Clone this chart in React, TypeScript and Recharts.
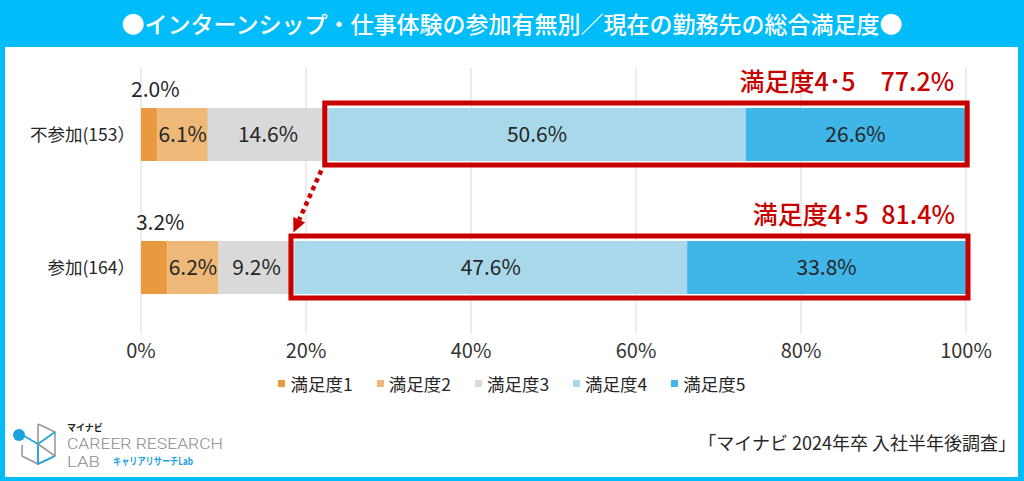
import React from 'react';
import {
  BarChart, Bar, XAxis, YAxis, CartesianGrid, LabelList, Legend, ReferenceLine,
} from 'recharts';

const FONT = '"Noto Sans CJK JP", "Noto Sans", sans-serif';

const categories = ['不参加(153）', '参加(164）'];
const seriesNames = ['満足度1', '満足度2', '満足度3', '満足度4', '満足度5'];
const seriesColors = ['#E9993E', '#EDB878', '#D9D9D9', '#A8D8EA', '#40B5E8'];
const s1 = [2.0, 3.2];
const s2 = [6.1, 6.2];
const s3 = [14.6, 9.2];
const s4 = [50.6, 47.6];
const s5 = [26.6, 33.8];
const total45 = [77.2, 81.4];
const total45Labels = ['満足度4･5\u300077.2%', '満足度4･5\u200281.4%'];
const xTicks = [0, 20, 40, 60, 80, 100];
const titleText = '●インターンシップ・仕事体験の参加有無別／現在の勤務先の総合満足度●';
const sourceText = '「マイナビ 2024年卒 入社半年後調査」';

const seriesArrays = [s1, s2, s3, s4, s5];
const keys = ['v1', 'v2', 'v3', 'v4', 'v5'];

const data = categories.map((name, i) => {
  const row: any = { name, total45: total45[i] };
  keys.forEach((k, j) => { row[k] = seriesArrays[j][i]; });
  row.before45 = s1[i] + s2[i] + s3[i];
  return row;
});

const RED = '#C80000';
const CYAN = '#00BDFA';

const fmt = (v: number) => `${Number(v).toFixed(1)}%`;

const centerLabel = (props: any) => {
  const { x, y, width, height, value } = props;
  return (
    <text x={x + width / 2} y={y + height / 2 + 7.5} textAnchor="middle" fontSize={21} fill="#262626" fontFamily={FONT}>
      {fmt(value)}
    </text>
  );
};

const topLabel = (props: any) => {
  const { x, y, width, value } = props;
  return (
    <text x={x + width / 2 + 6} y={y - 11} textAnchor="middle" fontSize={21} fill="#262626" fontFamily={FONT}>
      {fmt(value)}
    </text>
  );
};

const BoxShape = (props: any) => {
  const { x, y, width, height, fill, index } = props;
  const ppp = width / s5[index];
  const left = x - s4[index] * ppp;
  const right = x + width;
  return (
    <g>
      <rect x={x} y={y} width={width} height={height} fill={fill} />
      <rect x={left - 3.5} y={y - 5} width={right - left + 5.5} height={height + 9} fill="none" stroke={RED} strokeWidth={5} />
      <text x={right - 11} y={y - 17} textAnchor="end" fontSize={25} fontWeight={500} fill={RED} fontFamily={FONT} style={{ whiteSpace: 'pre' }}>
        {total45Labels[index]}
      </text>
    </g>
  );
};

const ArrowShape = (props: any) => {
  const { x1, y1, x2, y2 } = props;
  if ([x1, y1, x2, y2].some((v) => typeof v !== 'number' || isNaN(v))) return <g />;
  const sx = x1 - 7;
  const sy = y1 + 36;
  const tx = x2 - 1;
  const ty = y2 - 35;
  const dx = tx - sx;
  const dy = ty - sy;
  const len = Math.sqrt(dx * dx + dy * dy);
  const ux = dx / len;
  const uy = dy / len;
  const headLen = 14;
  const half = 6.5;
  const bx = tx - ux * headLen;
  const by = ty - uy * headLen;
  const px = -uy;
  const py = ux;
  return (
    <g>
      <line x1={sx} y1={sy} x2={bx} y2={by} stroke={RED} strokeWidth={4.5} strokeDasharray="4.5 4" />
      <polygon
        points={`${tx},${ty} ${bx + px * half},${by + py * half} ${bx - px * half},${by - py * half}`}
        fill={RED}
      />
    </g>
  );
};

const LegendContent = () => (
  <div style={{ display: 'flex', justifyContent: 'center', gap: 24, height: 24, alignItems: 'center', fontFamily: FONT, fontSize: 17.5, color: '#262626', paddingLeft: 0 }}>
    {seriesNames.map((n, i) => (
      <span key={n} style={{ display: 'flex', alignItems: 'center' }}>
        <span style={{ display: 'inline-block', width: 7, height: 7, background: seriesColors[i], marginRight: 5 }} />
        {n}
      </span>
    ))}
  </div>
);

const LOGO_LATIN = 'Roboto, "Noto Sans", sans-serif';

const Logo = () => (
  <svg width={240} height={70} style={{ position: 'absolute', left: 0, top: 410 }} viewBox="0 410 240 70">
    <g fill="none" strokeWidth={1.6}>
      <polyline points="38,424 55,432 55,456 38,464 22,456 22,445" stroke="#9A9A9A" />
      <line x1={38} y1={424} x2={38} y2={464} stroke="#9A9A9A" />
      <polyline points="38,444 55,432" stroke="#1AA3DD" />
      <polyline points="24,436 38,444 38,464 55,456" stroke="#1AA3DD" />
      <line x1={38} y1={444} x2={55} y2={456} stroke="#9A9A9A" />
    </g>
    <circle cx={19} cy={435} r={6} fill="#1AA3DD" />
    <text x={67} y={431} fontSize={9} fontWeight={700} fill="#222" fontFamily={FONT}>マイナビ</text>
    <text x={67} y={449} fontSize={14.5} fontWeight={300} fill="#8C8C8C" fontFamily={LOGO_LATIN} textLength={156} lengthAdjust="spacingAndGlyphs">CAREER RESEARCH</text>
    <text x={67} y={467} fontSize={14.5} fontWeight={300} fill="#8C8C8C" fontFamily={LOGO_LATIN} textLength={33} lengthAdjust="spacingAndGlyphs">LAB</text>
    <text x={113} y={465} fontSize={10} fontWeight={700} fill="#1AA3DD" fontFamily={FONT} textLength={80} lengthAdjust="spacingAndGlyphs">キャリアリサーチLab</text>
  </svg>
);

export default function App() {
  return (
    <div style={{ position: 'absolute', left: 0, top: 0, width: 1024, height: 481, background: '#fff', overflow: 'hidden', fontFamily: FONT }}>
      <div style={{ position: 'absolute', left: 0, top: 0, width: 1024, height: 481, boxSizing: 'border-box', borderStyle: 'solid', borderColor: CYAN, borderWidth: '47px 6px 4px 5px' }} />
      <div style={{ position: 'absolute', left: 0, top: 0, width: 1024, height: 47, lineHeight: '47px', textAlign: 'center', color: '#fff', fontSize: 23, fontWeight: 500, fontFamily: FONT, whiteSpace: 'nowrap' }}>
        {titleText}
      </div>
      <div style={{ position: 'absolute', left: 0, top: 0 }}>
        <BarChart
          width={1024}
          height={400}
          data={data}
          layout="vertical"
          margin={{ top: 68, right: 58, bottom: 5, left: 0 }}
          barCategoryGap={0}
          barSize={53}
        >
          <CartesianGrid horizontal={false} vertical stroke="#D9D9D9" />
          <XAxis
            type="number"
            domain={[0, 100]}
            ticks={xTicks}
            tickFormatter={(v: number) => `${v}%`}
            axisLine={false}
            tickLine={false}
            tickMargin={4}
            tick={{ fontSize: 20, fill: '#333', fontFamily: FONT }}
            height={37}
            interval={0}
          />
          <YAxis
            type="category"
            dataKey="name"
            width={141}
            axisLine={false}
            tickLine={false}
            tickMargin={0}
            tick={{ fontSize: 17.5, fill: '#262626', fontFamily: FONT }}
          />
          <Legend verticalAlign="bottom" content={LegendContent} wrapperStyle={{ left: 0, width: 1024 }} />
          {keys.map((k, i) => (
            <Bar
              key={k}
              dataKey={k}
              name={seriesNames[i]}
              stackId="a"
              fill={seriesColors[i]}
              isAnimationActive={false}
              shape={i === 4 ? BoxShape : undefined}
            >
              <LabelList dataKey={k} content={i === 0 ? topLabel : centerLabel} />
            </Bar>
          ))}
          <ReferenceLine
            segment={[
              { x: data[0].before45, y: categories[0] },
              { x: data[1].before45, y: categories[1] },
            ]}
            ifOverflow="visible"
            shape={ArrowShape}
          />
        </BarChart>
      </div>
      <Logo />
      <div style={{ position: 'absolute', right: 8, top: 430, fontSize: 18, color: '#262626', fontFamily: FONT, whiteSpace: 'nowrap', lineHeight: '24px' }}>
        {sourceText}
      </div>
    </div>
  );
}
